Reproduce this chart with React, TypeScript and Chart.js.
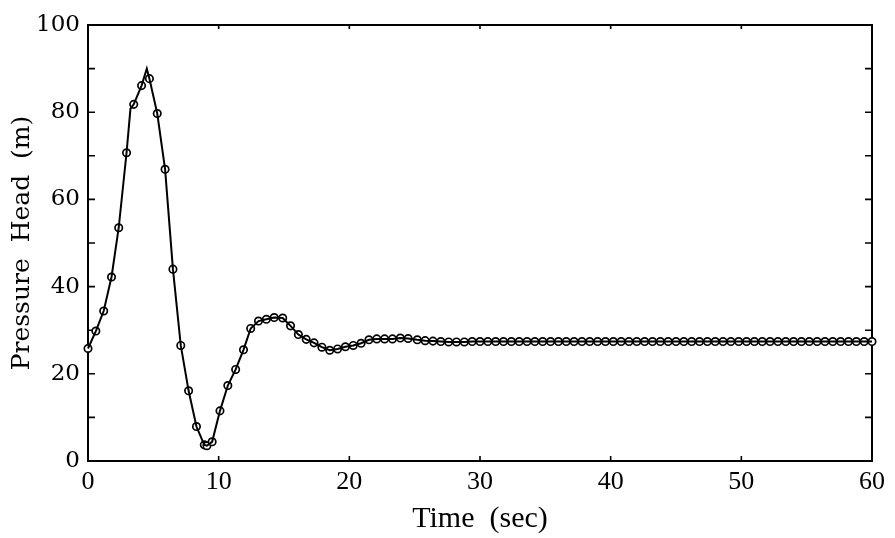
import { useEffect, useRef } from "react";
import { Chart, registerables } from "chart.js";

Chart.register(...registerables);

// Marker (sampled) times in seconds
const markerTimes = [
  0, 0.6, 1.2, 1.8, 2.35, 2.95, 3.5, 4.1, 4.7, 5.3, 5.9, 6.5, 7.1, 7.7, 8.3, 8.9, 9.1, 9.5,
  10.1, 10.7, 11.3, 11.9, 12.45, 13.05, 13.65, 14.25, 14.9, 15.5, 16.1, 16.7, 17.3, 17.9, 18.5,
  19.1, 19.7, 20.3, 20.9, 21.5, 22.1, 22.7, 23.3, 23.9, 24.5, 25.2, 25.8,
  26.4, 27.0, 27.6, 28.2, 28.8, 29.4, 30.0, 30.6, 31.2, 31.8, 32.4, 33.0, 33.6, 34.2, 34.8,
  35.4, 36.0, 36.6, 37.2, 37.8, 38.4, 39.0, 39.6, 40.2, 40.8, 41.4, 42.0, 42.6, 43.2, 43.8,
  44.4, 45.0, 45.6, 46.2, 46.8, 47.4, 48.0, 48.6, 49.2, 49.8, 50.4, 51.0, 51.6, 52.2, 52.8,
  53.4, 54.0, 54.6, 55.2, 55.8, 56.4, 57.0, 57.6, 58.2, 58.8, 59.4, 60.0,
];

// Pressure head (m) at the marker times
const markerHeads = [
  25.8, 29.8, 34.4, 42.2, 53.5, 70.7, 81.8, 86.1, 87.7, 79.7, 66.9, 44.0, 26.5, 16.1, 7.9, 3.7, 3.5, 4.4,
  11.5, 17.3, 21.0, 25.5, 30.4, 32.1, 32.5, 32.9, 32.8, 31.0, 29.0, 27.9, 27.1, 26.1, 25.4,
  25.7, 26.2, 26.5, 27.0, 27.8, 28.0, 28.0, 28.0, 28.2, 28.1, 27.8, 27.6,
  27.5, 27.4, 27.3, 27.3, 27.3, 27.4, 27.4, 27.4, 27.4, 27.4, 27.4, 27.4, 27.4, 27.4, 27.4,
  27.4, 27.4, 27.4, 27.4, 27.4, 27.4, 27.4, 27.4, 27.4, 27.4, 27.4, 27.4, 27.4, 27.4, 27.4,
  27.4, 27.4, 27.4, 27.4, 27.4, 27.4, 27.4, 27.4, 27.4, 27.4, 27.4, 27.4, 27.4, 27.4, 27.4,
  27.4, 27.4, 27.4, 27.4, 27.4, 27.4, 27.4, 27.4, 27.4, 27.4, 27.4, 27.4,
];

// Extra points of the continuous computed curve (kink and sharp peak)
const curveExtraTimes = [3.25, 4.5];
const curveExtraHeads = [80.8, 90.0];

const xTickValues = [0, 10, 20, 30, 40, 50, 60];
const yTickValues = [0, 20, 40, 60, 80, 100];
const yMinorTickValues = [10, 30, 50, 70, 90];

const xTitle = "Time  (sec)";
const yTitle = "Pressure  Head  (m)";

const markerPoints = markerTimes.map((t, i) => ({ x: t, y: markerHeads[i] }));
const curvePoints = [
  ...markerPoints,
  ...curveExtraTimes.map((t, i) => ({ x: t, y: curveExtraHeads[i] })),
].sort((a, b) => a.x - b.x);

const framePlugin = {
  id: "frame",
  beforeDatasetsDraw(chart: any) {
    const { ctx, chartArea, scales } = chart;
    const { left, right, top, bottom } = chartArea;
    const x = scales.x;
    const y = scales.y;
    ctx.save();
    ctx.strokeStyle = "#000";
    ctx.lineWidth = 2;
    ctx.strokeRect(left, top, right - left, bottom - top);
    ctx.lineWidth = 1.6;
    ctx.beginPath();
    [...yTickValues, ...yMinorTickValues].forEach((v) => {
      const py = y.getPixelForValue(v);
      ctx.moveTo(left, py);
      ctx.lineTo(left + 7, py);
      ctx.moveTo(right, py);
      ctx.lineTo(right - 7, py);
    });
    xTickValues.forEach((v) => {
      const px = x.getPixelForValue(v);
      ctx.moveTo(px, bottom);
      ctx.lineTo(px, bottom - 5);
      ctx.moveTo(px, top);
      ctx.lineTo(px, top + 4);
    });
    ctx.stroke();
    ctx.restore();
  },
};

export default function App() {
  const canvasRef = useRef<HTMLCanvasElement | null>(null);

  useEffect(() => {
    document.body.style.margin = "0";
    const canvas = canvasRef.current;
    if (!canvas) return;
    const chart = new Chart(canvas, {
      type: "scatter",
      data: {
        datasets: [
          {
            label: "curve",
            data: curvePoints,
            showLine: true,
            borderColor: "#000",
            borderWidth: 2,
            pointRadius: 0,
            tension: 0,
            clip: false,
          } as any,
          {
            label: "markers",
            data: markerPoints,
            showLine: false,
            pointStyle: "circle",
            pointRadius: 3.7,
            pointBorderWidth: 1.7,
            pointBorderColor: "#000",
            pointBackgroundColor: "#fff",
            clip: false,
          } as any,
          {
            label: "marker bars",
            data: markerPoints,
            showLine: false,
            pointStyle: "line",
            pointRadius: 3.7,
            pointBorderWidth: 1.5,
            pointBorderColor: "#000",
            clip: false,
          } as any,
        ],
      },
      options: {
        responsive: false,
        animation: false,
        events: [],
        layout: { padding: { top: 25, right: 23, left: 0, bottom: 0 } },
        plugins: { legend: { display: false }, tooltip: { enabled: false } },
        scales: {
          x: {
            type: "linear",
            min: 0,
            max: 60,
            afterFit: (s: any) => {
              s.height = 77;
            },
            grid: { display: false, drawTicks: false },
            border: { display: false },
            ticks: {
              stepSize: 10,
              padding: 6,
              color: "#000",
              font: { family: "'Liberation Serif', serif", size: 26 },
              maxRotation: 0,
              autoSkip: false,
            },
            title: {
              display: true,
              text: xTitle,
              color: "#000",
              font: { family: "'Liberation Serif', serif", size: 30 },
              padding: { top: 0, bottom: 1 },
            },
          },
          y: {
            type: "linear",
            min: 0,
            max: 100,
            afterFit: (s: any) => {
              s.width = 88;
            },
            grid: { display: false, drawTicks: false },
            border: { display: false },
            ticks: {
              stepSize: 20,
              padding: 8,
              color: "#000",
              font: { family: "'DejaVu Serif', serif", size: 23 },
              autoSkip: false,
            },
            title: {
              display: true,
              text: yTitle,
              color: "#000",
              font: { family: "'DejaVu Serif', serif", size: 25 },
              padding: { top: 7, bottom: 0 },
            },
          },
        },
      },
      plugins: [framePlugin],
    });
    return () => chart.destroy();
  }, []);

  return (
    <div style={{ width: 895, height: 538, background: "#fff" }}>
      <canvas ref={canvasRef} width={895} height={538} style={{ display: "block" }} />
    </div>
  );
}
